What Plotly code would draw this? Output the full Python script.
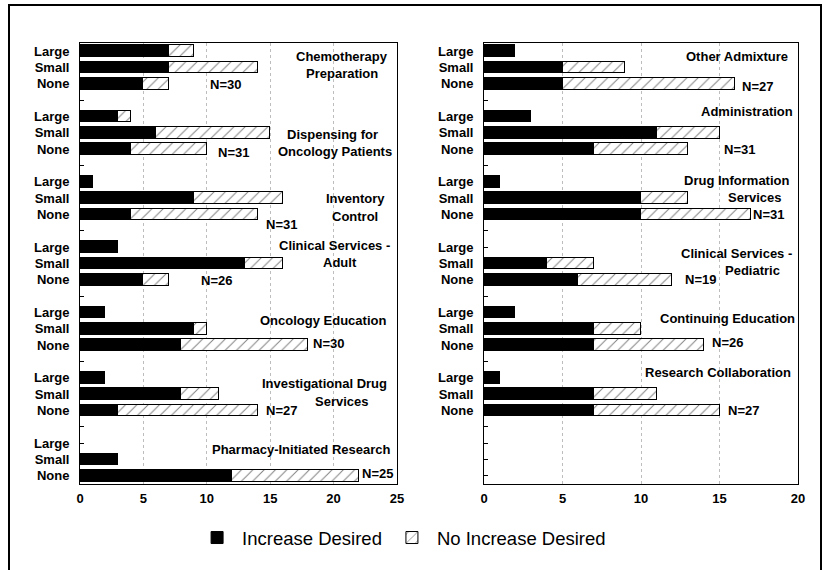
import plotly.graph_objects as go

# ---------------- data ----------------
levels = ["Large", "Small", "None"]

left_topics = ["Chemotherapy Preparation", "Dispensing for Oncology Patients",
               "Inventory Control", "Clinical Services - Adult",
               "Oncology Education", "Investigational Drug Services",
               "Pharmacy-Initiated Research"]
left_increase = [[7, 7, 5], [3, 6, 4], [1, 9, 4], [3, 13, 5],
                 [2, 9, 8], [2, 8, 3], [0, 3, 12]]
left_no_increase = [[2, 7, 2], [1, 9, 6], [0, 7, 10], [0, 3, 2],
                    [0, 1, 10], [0, 3, 11], [0, 0, 10]]
left_n = [30, 31, 31, 26, 30, 27, 25]

right_topics = ["Other Admixture", "Administration", "Drug Information Services",
                "Clinical Services - Pediatric", "Continuing Education",
                "Research Collaboration"]
right_increase = [[2, 5, 5], [3, 11, 7], [1, 10, 10], [0, 4, 6],
                  [2, 7, 7], [1, 7, 7]]
right_no_increase = [[0, 4, 11], [0, 4, 6], [0, 3, 7], [0, 3, 6],
                     [0, 3, 7], [0, 4, 8]]
right_n = [27, 31, 31, 19, 26, 27]

left_xticks = [0, 5, 10, 15, 20, 25]
right_xticks = [0, 5, 10, 15, 20]

# label placement (x in axis units, y in row slots) -- layout only
left_label_pos = [
    [("Chemotherapy", 20.7, 0.30), ("Preparation", 20.7, 1.34)],
    [("Dispensing for", 19.95, 5.08), ("Oncology Patients", 20.1, 6.13)],
    [("Inventory", 21.7, 9.05), ("Control", 21.7, 10.15)],
    [("Clinical Services -", 20.1, 11.9), ("Adult", 20.5, 12.95)],
    [("Oncology Education", 19.16, 16.49)],
    [("Investigational Drug", 19.3, 20.36), ("Services", 20.66, 21.42)],
    [("Pharmacy-Initiated Research", 17.5, 24.4)],
]
left_n_pos = [(11.44, 2.02), (12.07, 6.19), (15.93, 10.6), (10.8, 14.04),
              (19.56, 17.9), (15.93, 22.0), (23.5, 25.88)]
right_label_pos = [
    [("Other Admixture", 16.1, 0.30)],
    [("Administration", 16.75, 3.67)],
    [("Drug Information", 16.1, 7.9), ("Services", 17.26, 8.95)],
    [("Clinical Services -", 16.1, 12.4), ("Pediatric", 17.1, 13.45)],
    [("Continuing Education", 15.5, 16.37)],
    [("Research Collaboration", 14.9, 19.68)],
]
right_n_pos = [(17.4, 2.14), (16.3, 6.0), (18.1, 10.0), (13.76, 14.0),
               (15.54, 17.84), (16.5, 22.0)]

# ---------------- figure ----------------
FONT = "Liberation Sans"
W, H = 828, 570
N_SLOTS = 27  # 7 groups x (3 rows + gap), last gap dropped

fig = go.Figure()


def add_panel(inc, noinc, topics, xa, ya, show_legend):
    ys, xi, xn, hov = [], [], [], []
    for g, (ri, rn) in enumerate(zip(inc, noinc)):
        for i in range(3):
            ys.append(4 * g + i)
            xi.append(ri[i])
            xn.append(rn[i])
            hov.append(f"{topics[g]} - {levels[i]}")
    fig.add_trace(go.Bar(
        y=ys, x=xi, orientation="h", name="Increase Desired",
        marker=dict(color="black", line=dict(color="black", width=1)),
        width=0.72, xaxis=xa, yaxis=ya, showlegend=show_legend,
        legendgroup="inc", hovertext=hov))
    fig.add_trace(go.Bar(
        y=ys, x=xn, orientation="h", name="No Increase Desired",
        marker=dict(color="white", line=dict(color="black", width=1),
                    pattern=dict(shape="/", fgcolor="black", bgcolor="white",
                                 size=8, solidity=0.12)),
        width=0.72, xaxis=xa, yaxis=ya, showlegend=show_legend,
        legendgroup="noinc", hovertext=hov))


add_panel(left_increase, left_no_increase, left_topics, "x", "y", True)
add_panel(right_increase, right_no_increase, right_topics, "x2", "y2", False)


def ytext(ngroups):
    t = []
    for g in range(7):
        for i in range(3):
            t.append(levels[i] if g < ngroups else "")
        t.append("")
    return t[:N_SLOTS]


tick_font = dict(family=FONT, size=13, color="black", weight="bold")
ydom = [1 - 484 / H, 1 - 43 / H]
common_x = dict(showline=True, mirror=True, linecolor="black", linewidth=1,
                ticks="", showgrid=True, gridcolor="#bdbdbd", griddash="dot",
                gridwidth=1, zeroline=False, tickfont=tick_font,
                ticklabelstandoff=2, automargin=False, fixedrange=True)
common_y = dict(showline=True, mirror=True, linecolor="black", linewidth=1,
                ticks="inside", ticklen=4, tickcolor="black", tickwidth=1,
                showgrid=False, zeroline=False, tickfont=tick_font,
                tickmode="array", tickvals=list(range(N_SLOTS)),
                range=[N_SLOTS - 0.5, -0.5], ticklabelstandoff=7,
                automargin=False, domain=ydom, fixedrange=True)

fig.update_layout(
    xaxis=dict(common_x, domain=[80 / W, 397 / W], range=[0, 25],
               tickvals=left_xticks, anchor="y"),
    yaxis=dict(common_y, ticktext=ytext(len(left_topics)), anchor="x"),
    xaxis2=dict(common_x, domain=[484 / W, 798 / W], range=[0, 20],
                tickvals=right_xticks, anchor="y2"),
    yaxis2=dict(common_y, ticktext=ytext(len(right_topics)), anchor="x2"),
)

ann_font = dict(family=FONT, size=13, color="black", weight="bold")
annotations = []
for pos, npos, ns, xr, yr in [(left_label_pos, left_n_pos, left_n, "x", "y"),
                              (right_label_pos, right_n_pos, right_n, "x2", "y2")]:
    for lines in pos:
        for txt, x, y in lines:
            annotations.append(dict(text=txt, x=x, y=y, xref=xr, yref=yr,
                                    showarrow=False, font=ann_font,
                                    xanchor="center", yanchor="middle"))
    for (x, y), n in zip(npos, ns):
        annotations.append(dict(text=f"N={n}", x=x, y=y, xref=xr, yref=yr,
                                showarrow=False, font=ann_font,
                                xanchor="center", yanchor="middle"))

fig.update_layout(
    width=W, height=H,
    margin=dict(l=0, r=0, t=0, b=0),
    barmode="stack",
    bargap=0,
    plot_bgcolor="white", paper_bgcolor="white",
    annotations=annotations,
    showlegend=True,
    legend=dict(orientation="h", x=0.485, xanchor="center", y=1 - 538 / H,
                yanchor="middle", font=dict(family=FONT, size=18.5, color="black"),
                itemwidth=40, traceorder="normal", bgcolor="rgba(0,0,0,0)"),
    shapes=[dict(type="rect", xref="paper", yref="paper",
                 x0=9 / W, x1=821 / W, y0=-0.05, y1=1 - 5 / H,
                 line=dict(color="black", width=2), layer="below")],
)

fig.write_html("out.html",
               config={"displayModeBar": False},
               post_script="document.body.style.margin='0';"
                           "document.body.style.overflow='hidden';")
